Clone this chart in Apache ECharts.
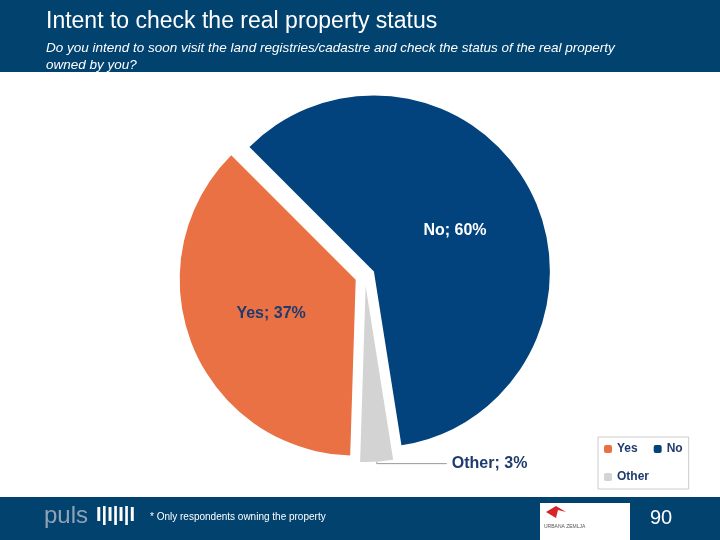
<!DOCTYPE html>
<html>
<head>
<meta charset="utf-8">
<script src="https://cdn.jsdelivr.net/npm/echarts@6/dist/echarts.min.js"></script>
</head>
<body style="margin:0;">
<div id="main" style="width:720px;height:540px;"></div>
<script>
var names = ['No', 'Other', 'Yes'];
var values = [60, 3, 37];
var colors = ['#02437e', '#d3d3d3', '#e97144'];
var legendOrder = ['Yes', 'No', 'Other'];

var chart = echarts.init(document.getElementById('main'));

var pieData = names.map(function (n, i) {
  var item = { name: n, value: values[i], selected: true, itemStyle: { color: colors[i] } };
  if (n === 'No') {
    item.label = { position: 'inside', color: '#fff' };
  } else if (n === 'Yes') {
    item.label = { position: 'inside', color: '#1f3b6e' };
  } else {
    item.label = { position: 'outside', color: '#1f3b6e' };
    item.labelLine = { show: true, length: 2, length2: 70, lineStyle: { color: '#999' } };
  }
  return item;
});

chart.setOption({
  animation: false,
  graphic: [
    { type: 'rect', shape: { x: 0, y: 0, width: 720, height: 72 }, style: { fill: '#02426f' } },
    { type: 'text', left: 46, top: 10, style: { text: 'Intent to check the real property status', fill: '#fff', font: '23px Liberation Sans, Arial' } },
    { type: 'text', left: 46, top: 40, style: { text: 'Do you intend to soon visit the land registries/cadastre and check the status of the real property\nowned by you?', fill: '#fff', font: 'italic 13.5px Liberation Sans, Arial', lineHeight: 17 } },
    { type: 'rect', shape: { x: 0, y: 497, width: 720, height: 43 }, style: { fill: '#02426f' } },
    { type: 'text', left: 44, top: 504, style: { text: 'puls', fill: '#8fa3b5', font: '24px Liberation Sans, Arial' } },
    { type: 'text', left: 96, top: 505, style: { text: 'I|I|I|I', fill: '#fff', font: 'bold 20px Liberation Sans, Arial' } },
    { type: 'text', left: 150, top: 512, style: { text: '* Only respondents owning the property', fill: '#fff', font: '10px Liberation Sans, Arial' } },
    { type: 'rect', shape: { x: 540, y: 503, width: 90, height: 37 }, style: { fill: '#fff' } },
    { type: 'polygon', shape: { points: [[546, 512], [556, 506], [566, 512], [558, 510], [556, 518]] }, style: { fill: '#d8232a' } },
    { type: 'text', left: 544, top: 524, style: { text: 'URBANA ZEMLJA', fill: '#555', font: '5px Liberation Sans, Arial' } },
    { type: 'text', left: 650, top: 508, style: { text: '90', fill: '#fff', font: '20px Liberation Sans, Arial' } }
  ],
  legend: {
    data: legendOrder,
    left: 598, top: 437, width: 90,
    padding: [6, 6, 6, 6],
    borderColor: '#ccc', borderWidth: 1,
    itemWidth: 8, itemHeight: 8, itemGap: 16,
    selectedMode: false,
    textStyle: { color: '#1f3b6e', fontSize: 12, fontWeight: 'bold' }
  },
  series: [{
    type: 'pie',
    center: [365, 276],
    radius: 176,
    startAngle: 135,
    selectedMode: 'multiple',
    selectedOffset: 10,
    label: {
      formatter: '{b}; {c}%',
      fontSize: 16, fontWeight: 'bold',
      fontFamily: 'Liberation Sans, Arial'
    },
    emphasis: { disabled: true },
    data: pieData
  }]
});
</script>
</body>
</html>
